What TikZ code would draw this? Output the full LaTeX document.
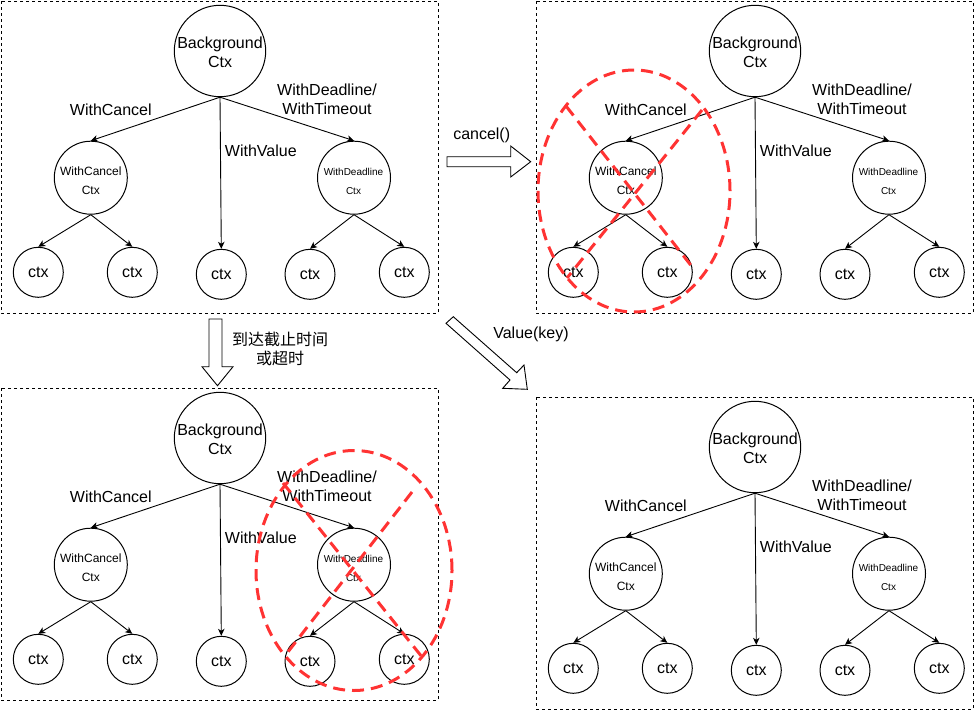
\documentclass[tikz,border=0pt]{standalone}
\usepackage{fontspec}
\setmainfont{Liberation Sans}
\newfontfamily\cjk{Noto Sans CJK SC}
\usetikzlibrary{arrows.meta}
\definecolor{redx}{HTML}{FF3333}
\tikzset{
  big/.style={font=\fontsize{16}{19}\selectfont},
  small/.style={font=\fontsize{12}{14}\selectfont},
  tiny/.style={font=\fontsize{10}{12}\selectfont},
  ring/.style={draw, circle, inner sep=0pt, line width=1pt},
  edge/.style={-{Stealth[length=7pt,width=6.5pt,inset=2pt]}, line width=0.9pt},
  panel/.style={draw, dash pattern=on 3pt off 3pt, line width=0.9pt},
  redmark/.style={draw=redx, line width=3pt, dash pattern=on 12pt off 7pt},
  blockarrow/.style={draw, fill=white, line width=0.9pt, line join=miter},
  txt/.style={anchor=base, inner sep=0pt},
}
\newcommand\ctxtree[3]{%
\begin{scope}[shift={(#2,#3)}]
  \node[ring, minimum size=91.4pt] (#1bg) at (220,51) {};
  \node[ring, minimum size=73pt] (#1wc) at (90.8,177.7) {};
  \node[ring, minimum size=73pt] (#1wd) at (354,177.7) {};
  \node[ring, minimum size=50pt, big] (#1ca) at (38.3,272.3) {ctx};
  \node[ring, minimum size=50pt, big] (#1cb) at (132.3,272.3) {ctx};
  \node[ring, minimum size=50pt, big] (#1cc) at (221.3,274.3) {ctx};
  \node[ring, minimum size=50pt, big] (#1cd) at (310,274.3) {ctx};
  \node[ring, minimum size=50pt, big] (#1ce) at (404.3,272.3) {ctx};
  \node[txt, big] (#1bgA) at (220,48.3) {Background};
  \node[txt, big] (#1bgB) at (220,67) {Ctx};
  \node[txt, small] (#1wcA) at (90.8,175) {WithCancel};
  \node[txt, small] (#1wcB) at (90.8,194) {Ctx};
  \node[txt, tiny] (#1wdA) at (353.5,175) {WithDeadline};
  \node[txt, tiny] (#1wdB) at (353.5,194) {Ctx};
  \node[txt, big] (#1la) at (110.8,115.7) {WithCancel};
  \node[txt, big] (#1lb) at (260.8,156.7) {WithValue};
  \node[txt, big] (#1lc) at (327,95) {WithDeadline/};
  \node[txt, big] (#1ld) at (327,114.3) {WithTimeout};
  \draw[edge] (#1bg.south) -- (#1wc.north);
  \draw[edge] (#1bg.south) -- (#1cc.north);
  \draw[edge] (#1bg.south) -- (#1wd.north);
  \draw[edge] (#1wc.south) -- (#1ca.north);
  \draw[edge] (#1wc.south) -- (#1cb.north);
  \draw[edge] (#1wd.south) -- (#1cd.north);
  \draw[edge] (#1wd.south) -- (#1ce.north);
\end{scope}}
\begin{document}
\begin{tikzpicture}[x=1pt, y=-1pt]
  \useasboundingbox (0,0) rectangle (974,710);
  % panels
  \draw[panel] (1,1) rectangle (438,313);
  \draw[panel] (536,1) rectangle (973,313);
  \draw[panel] (1,388) rectangle (438,700);
  \draw[panel] (536,397) rectangle (973,709);
  % trees
  \ctxtree{p1}{0}{0}
  \ctxtree{p2}{535}{0}
  \ctxtree{p3}{0}{387}
  \ctxtree{p4}{535}{396}
  % block arrows
  \draw[blockarrow] (447,156.7) -- (510.7,156.7) -- (510.7,146) -- (530.7,161.7)
     -- (510.7,177) -- (510.7,166.7) -- (447,166.7) -- cycle;
  \draw[blockarrow] (209,319) -- (222,319) -- (222,366.7) -- (233,366.7)
     -- (217.5,385.7) -- (202,366.7) -- (209,366.7) -- cycle;
  \draw[blockarrow] (446,323.3) -- (510,380) -- (502.7,388.3) -- (527.3,389.3)
     -- (524,365) -- (516.7,372.7) -- (453.3,316.7) -- cycle;
  % arrow labels
  \node[txt, big] (lcancel) at (481.7,139.5) {cancel()};
  \node[txt, big] (lvalue) at (531,338.3) {Value(key)};
  \node[txt, big, font=\cjk\fontsize{16}{19}\selectfont] (ldeadA) at (280,345) {到达截止时间};
  \node[txt, big, font=\cjk\fontsize{16}{19}\selectfont] (ldeadB) at (280,364) {或超时};
  % red marks
  \draw[redmark] (634,191) ellipse [x radius=96pt, y radius=121pt];
  \draw[redmark] (566,106) -- (693,268);
  \draw[redmark] (702,110) -- (567,278);
  \draw[redmark] (354,570.5) ellipse [x radius=98pt, y radius=120pt];
  \draw[redmark] (283,483) -- (422,657);
  \draw[redmark] (412,492) -- (284,657);
\end{tikzpicture}
\end{document}
